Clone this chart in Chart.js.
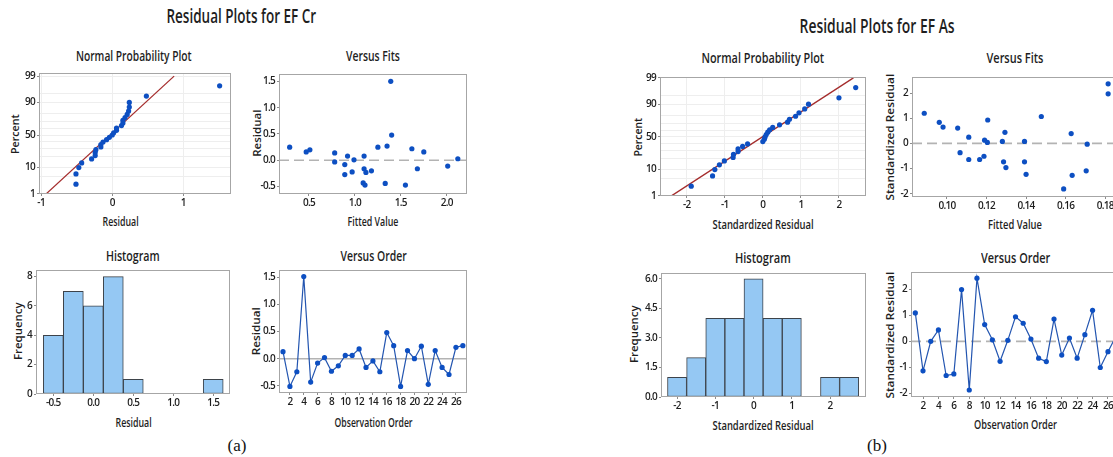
<!DOCTYPE html>
<html>
<head>
<meta charset="utf-8">
<script src="https://cdn.jsdelivr.net/npm/chart.js@4.4.1/dist/chart.umd.min.js"></script>
<style>
    html, body { margin: 0; padding: 0; background: #fff; width: 1113px; height: 457px; overflow: hidden; }
    body { position: relative; }
    .txt { position: absolute; white-space: nowrap; font-family: "Open Sans", sans-serif; font-weight: 600; color: #1e1e1e; transform-origin: center center; line-height: 1.2; }
    .cap { position: absolute; white-space: nowrap; font-family: "Liberation Serif", serif; font-size: 17px; color: #111; transform: translate(-50%, -50%); }
</style>
</head>
<body>
<div class="cap" style="left:237px; top:446px">(a)</div>
<div class="cap" style="left:877px; top:446px">(b)</div>

<script>
// ========================
// Data: (a) EF Cr
// ========================
const obsNo = [1, 2, 3, 4, 5, 6, 7, 8, 9, 10, 11, 12, 13, 14, 15, 16, 17, 18, 19, 20, 21, 22, 23, 24, 25, 26, 27];
const residA = [0.13, -0.51, -0.24, 1.51, -0.43, -0.08, 0.02, -0.23, -0.13, 0.06, 0.06, 0.18, -0.16, -0.04, -0.24, 0.48, 0.24, -0.51, 0.15, 0.00, 0.23, -0.47, 0.15, -0.16, -0.29, 0.21, 0.24];
const fitsA = [0.29, 0.47, 0.51, 0.78, 0.78, 0.89, 0.89, 0.92, 0.97, 0.99, 1.10, 1.09, 1.11, 1.10, 1.12, 1.18, 1.25, 1.33, 1.35, 1.39, 1.40, 1.55, 1.62, 1.68, 1.75, 2.01, 2.12];
const fitResA = [0.25, 0.16, 0.20, 0.14, -0.03, -0.08, -0.27, 0.08, -0.22, 0.01, 0.08, -0.43, -0.47, -0.16, -0.23, -0.20, 0.25, -0.44, 0.27, 1.50, 0.48, -0.47, 0.22, -0.16, 0.16, -0.11, 0.03];
const npResA = [-0.51, -0.51, -0.47, -0.43, -0.29, -0.24, -0.24, -0.23, -0.16, -0.16, -0.13, -0.08, -0.04, 0.00, 0.02, 0.06, 0.06, 0.13, 0.15, 0.15, 0.18, 0.21, 0.23, 0.24, 0.24, 0.48, 1.51];
const npLineA = [-0.93, 0.87];
const histBinsA = [-0.5, -0.25, 0, 0.25, 0.5, 0.75, 1.0, 1.25, 1.5];
const histCountsA = [4, 7, 6, 8, 1, 0, 0, 0, 1];

// ========================
// Data: (b) EF As
// ========================
const residB = [1.10, -1.14, 0.00, 0.44, -1.32, -1.26, 2.00, -1.88, 2.44, 0.65, 0.06, -0.77, 0.04, 0.95, 0.70, 0.09, -0.65, -0.78, 0.86, -0.53, 0.13, -0.65, 0.26, 1.20, -1.01, -0.40, 0.18];
const fitsB = [0.0885, 0.0961, 0.0980, 0.1054, 0.1110, 0.1066, 0.1110, 0.1165, 0.1187, 0.1190, 0.1204, 0.1206, 0.1280, 0.1286, 0.1293, 0.1298, 0.1392, 0.1392, 0.1400, 0.1477, 0.1590, 0.1628, 0.1633, 0.1704, 0.1709, 0.1815, 0.1815];
const fitResB = [1.20, 0.84, 0.65, 0.61, 0.25, -0.37, -0.64, -0.64, -0.51, 0.13, 0.04, 0.93, 0.08, -0.73, 0.44, -0.96, 0.08, -0.73, -1.23, 1.07, -1.81, 0.39, -1.27, -1.09, -0.03, 2.37, 1.97];
const npResB = [-1.88, -1.32, -1.26, -1.14, -1.01, -0.78, -0.77, -0.65, -0.65, -0.53, -0.40, 0.00, 0.04, 0.06, 0.09, 0.13, 0.18, 0.26, 0.44, 0.65, 0.70, 0.86, 0.95, 1.10, 1.20, 2.00, 2.44];
const npLineB = [-2.40, 2.38];
const histBinsB = [-2, -1.5, -1, -0.5, 0, 0.5, 1, 1.5, 2, 2.5];
const histCountsB = [1, 2, 4, 4, 6, 4, 4, 0, 1, 1];

// shared: plotting positions (percent) of the 27 ordered residuals
const npPct = [2.6, 6.2, 9.9, 13.5, 17.2, 20.8, 24.5, 28.1, 31.8, 35.4, 39.1, 42.7, 46.4, 50.0, 53.6, 57.3, 60.9, 64.6, 68.2, 71.9, 75.5, 79.2, 82.8, 86.5, 90.1, 93.8, 97.4];
const npLinePct = [1, 99];
const npGridPct = [1, 5, 10, 20, 30, 40, 50, 60, 70, 80, 90, 95, 99];
const npLabelPct = [1, 10, 50, 90, 99];

// tick labels
const ticksNpXA = [-1, 0, 1];
const ticksFitXA = [0.5, 1.0, 1.5, 2.0];
const ticksResYA = [-0.5, 0.0, 0.5, 1.0, 1.5];
const ticksHistXA = [-0.5, 0.0, 0.5, 1.0, 1.5];
const ticksHistYA = [0, 2, 4, 6, 8];
const ticksOrderX = [2, 4, 6, 8, 10, 12, 14, 16, 18, 20, 22, 24, 26];
const ticksNpXB = [-2, -1, 0, 1, 2];
const ticksFitXB = [0.10, 0.12, 0.14, 0.16, 0.18];
const ticksResYB = [-2, -1, 0, 1, 2];
const ticksHistXB = [-2, -1, 0, 1, 2];
const ticksHistYB = [0.0, 1.5, 3.0, 4.5, 6.0];

// ========================
// Helpers
// ========================
Chart.defaults.font.family = '"Open Sans", sans-serif';
Chart.defaults.color = '#1e1e1e';
const DOT = '#0d4fc2';

// inverse normal CDF for the probability axis
function probit(p) {
    const a = [-39.69683028665376, 220.9460984245205, -275.9285104469687, 138.3577518672690, -30.66479806614716, 2.506628277459239];
    const b = [-54.47609879822406, 161.5858368580409, -155.6989798598866, 66.80131188771972, -13.28068155288572];
    const c = [-0.007784894002430293, -0.3223964580411365, -2.400758277161838, -2.549732539343734, 4.374664141464968, 2.938163982698783];
    const d = [0.007784695709041462, 0.3224671290700398, 2.445134137142996, 3.754408661907416];
    const lo = 0.02425;
    let q, r;
    if (p < lo) {
        q = Math.sqrt(-2 * Math.log(p));
        return (((((c[0] * q + c[1]) * q + c[2]) * q + c[3]) * q + c[4]) * q + c[5]) / ((((d[0] * q + d[1]) * q + d[2]) * q + d[3]) * q + 1);
    }
    if (p > 1 - lo) {
        q = Math.sqrt(-2 * Math.log(1 - p));
        return -(((((c[0] * q + c[1]) * q + c[2]) * q + c[3]) * q + c[4]) * q + c[5]) / ((((d[0] * q + d[1]) * q + d[2]) * q + d[3]) * q + 1);
    }
    q = p - 0.5; r = q * q;
    return (((((a[0] * r + a[1]) * r + a[2]) * r + a[3]) * r + a[4]) * r + a[5]) * q / (((((b[0] * r + b[1]) * r + b[2]) * r + b[3]) * r + b[4]) * r + 1);
}

// squeeze the tick text a little, the original is horizontally condensed
const tightText = {
    id: 'tight',
    beforeLayout(chart) { chart.ctx.letterSpacing = '-0.7px'; },
    beforeDraw(chart) { chart.ctx.letterSpacing = '-0.7px'; }
};

const framePlugin = {
    id: 'frame',
    afterDraw(chart) {
        const { ctx, chartArea: a } = chart;
        ctx.save();
        ctx.strokeStyle = '#a6a6a6';
        ctx.lineWidth = 1;
        ctx.strokeRect(Math.round(a.left) + 0.5, Math.round(a.top) + 0.5, Math.round(a.width) - 1, Math.round(a.height) - 1);
        ctx.restore();
    }
};

function zeroLine(dash) {
    return {
        id: 'zeroLine',
        beforeDatasetsDraw(chart) {
            const { ctx, chartArea: a, scales: { y } } = chart;
            const py = y.getPixelForValue(0);
            ctx.save();
            ctx.strokeStyle = '#b3b3b3';
            ctx.lineWidth = 1.6;
            ctx.setLineDash(dash);
            ctx.beginPath();
            ctx.moveTo(a.left, py);
            ctx.lineTo(a.right, py);
            ctx.stroke();
            ctx.restore();
        }
    };
}

function scaleOpts(o) {
    return {
        type: 'linear',
        min: o.min,
        max: o.max,
        offset: false,
        afterBuildTicks: s => { s.ticks = o.ticks.map(v => ({ value: v })); },
        afterFit: s => { if (o.horizontal) s.height = o.size; else s.width = o.size; },
        ticks: {
            callback: o.fmt,
            font: { size: 10, weight: '600' },
            color: '#1e1e1e',
            padding: o.horizontal ? 1 : 2,
            maxRotation: 0,
            autoSkip: false
        },
        grid: {
            offset: false,
            drawOnChartArea: !!o.grid,
            color: o.grid || 'transparent',
            tickColor: o.tickColor || '#8c8c8c',
            tickLength: 2
        },
        border: { display: false },
        title: { display: false }
    };
}

// box = [x, y, w, h] of the canvas on the page, plot = [left, top, right, bottom] of the frame
function makeChart(spec) {
    const [bx, by, bw, bh] = spec.box;
    const [L, T, R, B] = spec.plot;
    const div = document.createElement('div');
    div.style.cssText = `position:absolute;left:${bx}px;top:${by}px;width:${bw}px;height:${bh}px`;
    const cv = document.createElement('canvas');
    cv.width = bw;
    cv.height = bh;
    div.appendChild(cv);
    document.body.appendChild(div);

    const xo = Object.assign({ horizontal: true, size: by + bh - B }, spec.x);
    const yo = Object.assign({ horizontal: false, size: L - bx }, spec.y);

    return new Chart(cv, {
        type: spec.type || 'scatter',
        data: { datasets: spec.datasets },
        options: {
            responsive: false,
            animation: false,
            layout: { padding: { left: 0, top: T - by, right: bx + bw - R, bottom: 0 } },
            plugins: { legend: { display: false }, tooltip: { enabled: false } },
            scales: { x: scaleOpts(xo), y: scaleOpts(yo) }
        },
        plugins: [tightText, framePlugin].concat(spec.plugins || [])
    });
}

// real text, centred on (cx, cy) and squeezed to the width it has in the original
function addText(text, cx, cy, size, width, vertical) {
    const el = document.createElement('div');
    el.className = 'txt';
    el.textContent = text;
    el.style.fontSize = size + 'px';
    document.body.appendChild(el);
    const w = el.offsetWidth, h = el.offsetHeight;
    el.style.left = (cx - w / 2) + 'px';
    el.style.top = (cy - h / 2) + 'px';
    el.style.transform = vertical
        ? `rotate(-90deg) scale(${width / w}, 0.85)`
        : `scaleX(${width / w})`;
}

const fmt1 = v => v.toFixed(1);
const fmt2 = v => v.toFixed(2);
const fmt0 = v => v.toFixed(0);
const pts = (xs, ys) => xs.map((x, i) => ({ x, y: ys[i] }));
const npPts = (xs) => xs.map((x, i) => ({ x, y: probit(npPct[i] / 100) }));
const npLine = (xs) => xs.map((x, i) => ({ x, y: probit(npLinePct[i] / 100) }));
const npYAxis = (min, max) => ({
    min, max,
    ticks: npGridPct.map(p => probit(p / 100)),
    fmt: (v, i) => npLabelPct.includes(npGridPct[i]) ? String(npGridPct[i]) : '',
    grid: '#eeeeee',
    tickColor: ctx => npLabelPct.includes(npGridPct[ctx.index]) ? '#8c8c8c' : 'transparent'
});
const dotSet = data => ({ data, pointRadius: 2.6, pointBackgroundColor: DOT, pointBorderWidth: 0, showLine: false });
const fitSet = data => ({ data, showLine: true, pointRadius: 0, borderColor: '#a52d2d', borderWidth: 1.3 });
const orderSet = data => ({ data, showLine: true, borderColor: '#2355b0', borderWidth: 1.2, pointRadius: 2.6, pointBackgroundColor: DOT, pointBorderWidth: 0 });
const histSet = (bins, counts) => ({
    data: pts(bins, counts),
    backgroundColor: '#95c8f3',
    borderColor: '#3d434a',
    borderWidth: 1,
    borderSkipped: false,
    barPercentage: 1,
    categoryPercentage: 1
});

// ========================
// Titles
// ========================
addText('Residual Plots for EF Cr', 241, 16, 19, 150);
addText('Residual Plots for EF As', 877, 26, 19, 155);
addText('Normal Probability Plot', 134, 55, 15, 116);
addText('Versus Fits', 373, 55, 15, 54);
addText('Histogram', 133, 255, 15, 54);
addText('Versus Order', 373, 255, 15, 66);
addText('Normal Probability Plot', 763, 57, 15, 123);
addText('Versus Fits', 1015, 57, 15, 57);
addText('Histogram', 763, 257, 15, 56);
addText('Versus Order', 1015, 257, 15, 69);

// axis titles
addText('Residual', 120, 221, 12.5, 36);
addText('Fitted Value', 373, 221, 12.5, 51);
addText('Residual', 133, 422, 12.5, 36);
addText('Observation Order', 373, 422, 12.5, 78);
addText('Standardized Residual', 763, 224, 12.5, 101);
addText('Fitted Value', 1015, 224, 12.5, 54);
addText('Standardized Residual', 763, 425, 12.5, 101);
addText('Observation Order', 1015, 424, 12.5, 83);
addText('Percent', 15, 134, 12, 40, true);
addText('Residual', 257, 133, 12, 47, true);
addText('Frequency', 19, 331, 12, 58, true);
addText('Residual', 256, 331, 12, 48, true);
addText('Percent', 638, 137, 12, 39, true);
addText('Standardized Residual', 890, 137, 12, 127, true);
addText('Frequency', 635, 334, 12, 58, true);
addText('Standardized Residual', 890, 335, 12, 127, true);

// ========================
// (a) EF Cr
// ========================
makeChart({
    box: [0, 62, 240, 174], plot: [39, 73, 231, 194],
    datasets: [dotSet(npPts(npResA)), fitSet(npLine(npLineA))],
    x: { min: -1.03, max: 1.67, ticks: ticksNpXA, fmt: fmt0, grid: '#eeeeee' },
    y: npYAxis(-2.33, 2.45)
});
makeChart({
    box: [240, 62, 240, 174], plot: [279, 74, 467, 194],
    datasets: [dotSet(pts(fitsA, fitResA))],
    x: { min: 0.174, max: 2.22, ticks: ticksFitXA, fmt: fmt1 },
    y: { min: -0.64, max: 1.64, ticks: ticksResYA, fmt: fmt1 },
    plugins: [zeroLine([10, 5])]
});
makeChart({
    type: 'bar',
    box: [0, 262, 240, 175], plot: [36, 270, 230, 394],
    datasets: [histSet(histBinsA, histCountsA)],
    x: { min: -0.717, max: 1.71, ticks: ticksHistXA, fmt: fmt1 },
    y: { min: 0, max: 8.45, ticks: ticksHistYA, fmt: fmt0 }
});
makeChart({
    box: [240, 262, 240, 175], plot: [279, 269, 467, 393],
    datasets: [orderSet(pts(obsNo, residA))],
    x: { min: 0.42, max: 27.6, ticks: ticksOrderX, fmt: fmt0 },
    y: { min: -0.63, max: 1.63, ticks: ticksResYA, fmt: fmt1 },
    plugins: [zeroLine([])]
});

// ========================
// (b) EF As
// ========================
makeChart({
    box: [620, 64, 255, 176], plot: [660, 77, 866, 196],
    datasets: [dotSet(npPts(npResB)), fitSet(npLine(npLineB))],
    x: { min: -2.70, max: 2.71, ticks: ticksNpXB, fmt: fmt0, grid: '#eeeeee' },
    y: npYAxis(-2.33, 2.36)
});
makeChart({
    box: [875, 64, 260, 176], plot: [912, 77, 1121, 197],
    datasets: [dotSet(pts(fitsB, fitResB))],
    x: { min: 0.0823, max: 0.188, ticks: ticksFitXB, fmt: fmt2 },
    y: { min: -2.13, max: 2.64, ticks: ticksResYB, fmt: fmt0 },
    plugins: [zeroLine([10, 5])]
});
makeChart({
    type: 'bar',
    box: [620, 264, 255, 176], plot: [661, 273, 866, 397],
    datasets: [histSet(histBinsB, histCountsB)],
    x: { min: -2.42, max: 2.94, ticks: ticksHistXB, fmt: fmt0 },
    y: { min: 0, max: 6.3, ticks: ticksHistYB, fmt: fmt1 }
});
makeChart({
    box: [875, 264, 260, 176], plot: [911, 272, 1120, 397],
    datasets: [orderSet(pts(obsNo, residB))],
    x: { min: 0.44, max: 27.56, ticks: ticksOrderX, fmt: fmt0 },
    y: { min: -2.15, max: 2.68, ticks: ticksResYB, fmt: fmt0 },
    plugins: [zeroLine([10, 5])]
});
</script>
</body>
</html>
